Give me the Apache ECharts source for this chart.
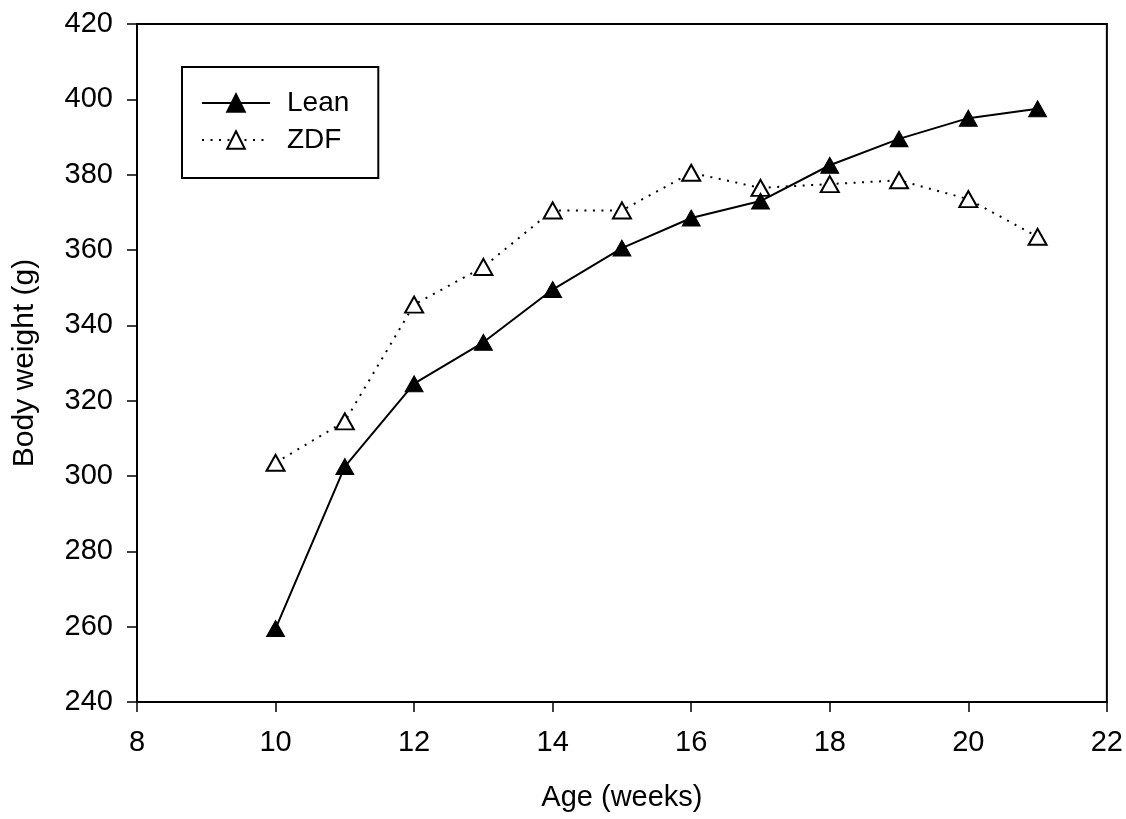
<!DOCTYPE html>
<html>
<head>
<meta charset="utf-8">
<title>Body weight</title>
<script src="https://cdn.jsdelivr.net/npm/echarts@6/dist/echarts.min.js"></script>
<style>
  html, body { margin: 0; padding: 0; background: #fff; }
  #chart { width: 1126px; height: 819px; }
</style>
</head>
<body>
<div id="chart"></div>
<script>
// Age in weeks and mean body weight (g) per group
const ages = [10, 11, 12, 13, 14, 15, 16, 17, 18, 19, 20, 21];
const leanWeight = [259.5, 302.5, 324.5, 335.5, 349.5, 360.5, 368.5, 373, 382.5, 389.5, 395, 397.5];
const zdfWeight = [303.5, 314.5, 345.5, 355.5, 370.5, 370.5, 380.5, 376.5, 377.5, 378.5, 373.5, 363.5];
const seriesNames = ['Lean', 'ZDF'];

const FONT = "'Liberation Sans', Arial, sans-serif";
const pairs = (ys) => ages.map((x, i) => [x, ys[i]]);

const chart = echarts.init(document.getElementById('chart'), null, { renderer: 'canvas' });

const axisCommon = {
  axisLine: { show: true, onZero: false, lineStyle: { color: '#000', width: 2 } },
  axisTick: { show: true, inside: false, length: 10, lineStyle: { color: '#000', width: 1.5 } },
  splitLine: { show: false },
  nameLocation: 'middle'
};

chart.setOption({
  animation: false,
  backgroundColor: '#fff',
  grid: {
    left: 137, right: 19, top: 24, bottom: 117,
    show: true, borderColor: '#000', borderWidth: 2
  },
  legend: {
    data: seriesNames,
    orient: 'vertical',
    left: 182, top: 67,
    padding: [22, 29, 24, 19],
    itemGap: 9,
    itemWidth: 68,
    itemHeight: 22,
    borderColor: '#000',
    borderWidth: 2,
    selectedMode: false,
    textStyle: { fontFamily: FONT, fontSize: 28, color: '#000', lineHeight: 28, padding: [0, 0, 0, 12] }
  },
  xAxis: Object.assign({}, axisCommon, {
    type: 'value',
    min: 8, max: 22, interval: 2,
    name: 'Age (weeks)',
    nameGap: 81,
    nameTextStyle: { fontFamily: FONT, fontSize: 29, color: '#000' },
    axisLabel: { fontFamily: FONT, fontSize: 29, color: '#000', margin: 26 }
  }),
  yAxis: Object.assign({}, axisCommon, {
    type: 'value',
    min: 240, max: 420, interval: 20,
    name: 'Body weight (g)',
    nameGap: 97,
    nameTextStyle: { fontFamily: FONT, fontSize: 30, color: '#000' },
    axisLabel: { fontFamily: FONT, fontSize: 29, color: '#000', margin: 24 }
  }),
  series: [
    {
      name: 'ZDF',
      type: 'line',
      data: pairs(zdfWeight),
      symbol: 'triangle',
      symbolSize: [18, 16],
      z: 2,
      lineStyle: { color: '#000', width: 2, type: [2, 6.5] },
      itemStyle: { color: '#fff', borderColor: '#000', borderWidth: 2 },
      emphasis: { disabled: true }
    },
    {
      name: 'Lean',
      type: 'line',
      data: pairs(leanWeight),
      symbol: 'triangle',
      symbolSize: [18, 16],
      z: 3,
      lineStyle: { color: '#000', width: 2, type: 'solid' },
      itemStyle: { color: '#000', borderColor: '#000', borderWidth: 1 },
      emphasis: { disabled: true }
    }
  ]
});
</script>
</body>
</html>
